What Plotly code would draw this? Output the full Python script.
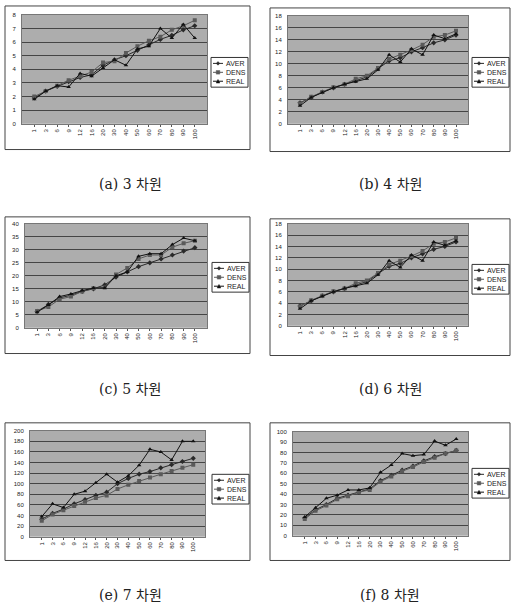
import plotly.graph_objects as go

categories = ["1", "3", "6", "9", "12", "16", "20", "30", "40", "50", "60", "70", "80", "90", "100"]
series_names = ["AVER", "DENS", "REAL"]

a_aver = [1.9, 2.4, 2.75, 3.1, 3.4, 3.6, 4.3, 4.7, 5.0, 5.4, 5.8, 6.2, 6.5, 6.9, 7.2]
a_dens = [2.0, 2.4, 2.8, 3.2, 3.5, 3.8, 4.5, 4.6, 5.2, 5.7, 6.1, 6.4, 6.9, 7.2, 7.6]
a_real = [1.8, 2.4, 2.8, 2.7, 3.7, 3.5, 4.1, 4.7, 4.3, 5.5, 5.7, 7.0, 6.3, 7.3, 6.3]

b_aver = [3.5, 4.4, 5.3, 6.0, 6.6, 7.2, 7.8, 9.2, 10.5, 11.0, 12.0, 12.7, 13.5, 14.0, 14.8]
b_dens = [3.4, 4.5, 5.3, 6.1, 6.6, 7.5, 8.0, 9.3, 10.8, 11.5, 12.3, 13.2, 14.5, 14.8, 15.5]
b_real = [3.0, 4.4, 5.2, 6.0, 6.6, 7.0, 7.5, 9.0, 11.5, 10.3, 12.5, 11.5, 14.8, 14.2, 15.0]

c_aver = [6.3, 9.0, 11.5, 12.5, 14.0, 15.0, 16.5, 19.5, 21.5, 23.5, 25.0, 26.5, 28.0, 29.5, 30.8]
c_dens = [6.5, 8.0, 11.0, 12.0, 14.0, 15.2, 15.5, 20.5, 23.0, 26.5, 28.0, 28.0, 31.0, 32.5, 33.5]
c_real = [6.0, 8.8, 12.0, 13.0, 14.3, 15.3, 15.3, 20.0, 21.5, 27.5, 28.5, 28.5, 32.0, 34.5, 33.5]

d_aver = list(b_aver)
d_dens = list(b_dens)
d_real = list(b_real)

e_aver = [33, 44, 52, 62, 70, 78, 84, 100, 110, 118, 123, 130, 136, 142, 148]
e_dens = [30, 42, 50, 58, 66, 73, 78, 90, 98, 105, 112, 118, 124, 130, 136]
e_real = [38, 62, 55, 80, 86, 102, 118, 103, 115, 135, 165, 160, 145, 180, 180]

f_aver = [17, 25, 30, 36, 39, 42, 45, 53, 58, 63, 67, 72, 76, 79, 82]
f_dens = [16, 24, 29, 35, 38, 42, 44, 52, 57, 62, 66, 71, 75, 79, 82]
f_real = [18, 27, 36, 39, 44, 44, 46, 61, 68, 79, 77, 78, 91, 87, 93]

y_max = [8, 18, 40, 18, 200, 100]
y_step = [1, 2, 5, 2, 20, 10]
captions = ["(a) 3 차원", "(b) 4 차원", "(c) 5 차원", "(d) 6 차원", "(e) 7 차원", "(f) 8 차원"]

panel_data = [
    (a_aver, a_dens, a_real),
    (b_aver, b_dens, b_real),
    (c_aver, c_dens, c_real),
    (d_aver, d_dens, d_real),
    (e_aver, e_dens, e_real),
    (f_aver, f_dens, f_real),
]

W, H = 511, 611


def px(x):
    return x / W


def py(y):
    return 1 - y / H


# layout geometry in pixels
plot_boxes = [(22, 12, 207, 122), (288, 13, 468, 122),
              (25, 223, 207, 328), (288, 223, 468, 326),
              (30, 432, 205, 539), (293, 433, 468, 538)]
legend_pos = [(211, 55), (472, 55), (212, 262), (472, 264), (212, 476), (472, 470)]
legend_size = (37, 30)
outer_boxes = [(5, 3, 250, 148), (270, 5, 510, 150),
               (5, 216, 250, 354), (270, 218, 510, 356),
               (5, 424, 250, 563), (270, 424, 510, 563)]
caption_pos = [(130, 183), (390, 183), (130, 390), (390, 390), (130, 598), (390, 598)]

symbols = ["diamond", "square", "triangle-up"]
colors = ["#2a2a2a", "#5a5a5a", "#111111"]


def marker_path(sym, cx, cy, r=1.8):
    if sym == "diamond":
        pts = [(cx, cy - r), (cx + r, cy), (cx, cy + r), (cx - r, cy)]
    elif sym == "square":
        pts = [(cx - r, cy - r), (cx + r, cy - r), (cx + r, cy + r), (cx - r, cy + r)]
    else:
        pts = [(cx, cy - r), (cx + r, cy + r), (cx - r, cy + r)]
    return "M " + " L ".join(f"{px(x):.5f},{py(y):.5f}" for x, y in pts) + " Z"


fig = go.Figure()
layout = dict(width=W, height=H, margin=dict(l=0, r=0, t=0, b=0),
              paper_bgcolor="white", plot_bgcolor="#adadad", showlegend=False,
              shapes=[], annotations=[])

for i in range(6):
    n = i + 1
    sfx = "" if n == 1 else str(n)
    x0, y0, x1, y1 = plot_boxes[i]
    for k in range(3):
        fig.add_trace(go.Scatter(
            x=categories, y=panel_data[i][k], name=series_names[k],
            mode="lines+markers",
            line=dict(color=colors[k], width=1),
            marker=dict(symbol=symbols[k], size=4, color=colors[k]),
            xaxis="x" + sfx, yaxis="y" + sfx, showlegend=False,
        ))
    layout["xaxis" + sfx] = dict(
        domain=[px(x0), px(x1)], anchor="y" + sfx, type="category",
        tickangle=-90, tickfont=dict(size=6, family="Arial", color="#222"),
        showgrid=False, showline=True, linecolor="#777", mirror=True,
        ticks="outside", ticklen=2, tickcolor="#555", zeroline=False,
    )
    layout["yaxis" + sfx] = dict(
        domain=[py(y1), py(y0)], anchor="x" + sfx,
        range=[0, y_max[i]], dtick=y_step[i], tick0=0,
        tickfont=dict(size=6, family="Arial", color="#222"),
        showgrid=True, gridcolor="#454545", gridwidth=1,
        showline=True, linecolor="#777", mirror=True, zeroline=False,
        ticks="", ticklabelstandoff=4,
    )
    # outer chart border
    bx0, by0, bx1, by1 = outer_boxes[i]
    layout["shapes"].append(dict(
        type="rect", xref="paper", yref="paper",
        x0=px(bx0), x1=px(bx1), y0=py(by1), y1=py(by0),
        line=dict(color="#444", width=1), fillcolor="rgba(0,0,0,0)", layer="below",
    ))
    # compact legend box
    lx, ly = legend_pos[i]
    lw, lh = legend_size
    layout["shapes"].append(dict(
        type="rect", xref="paper", yref="paper",
        x0=px(lx), x1=px(lx + lw), y0=py(ly + lh), y1=py(ly),
        line=dict(color="#333", width=1), fillcolor="white",
    ))
    for k in range(3):
        ry = ly + 6 + k * 9
        layout["shapes"].append(dict(
            type="line", xref="paper", yref="paper",
            x0=px(lx + 2), x1=px(lx + 12), y0=py(ry), y1=py(ry),
            line=dict(color=colors[k], width=1),
        ))
        layout["shapes"].append(dict(
            type="path", xref="paper", yref="paper",
            path=marker_path(symbols[k], lx + 7, ry),
            fillcolor=colors[k], line=dict(color=colors[k], width=0.5),
        ))
        layout["annotations"].append(dict(
            text=series_names[k], xref="paper", yref="paper",
            x=px(lx + 13), y=py(ry), xanchor="left", yanchor="middle",
            showarrow=False, font=dict(size=7, family="Arial", color="#222"),
        ))
    cx, cy = caption_pos[i]
    layout["annotations"].append(dict(
        text=captions[i], xref="paper", yref="paper", x=px(cx), y=py(cy),
        xanchor="center", yanchor="middle", showarrow=False,
        font=dict(size=14, family="DejaVu Serif, Noto Sans CJK KR", color="#222"),
    ))

fig.update_layout(**layout)
fig.write_html("out.html", config={"displayModeBar": False, "staticPlot": True},
               post_script="document.body.style.margin='0';document.body.style.overflow='hidden';")
